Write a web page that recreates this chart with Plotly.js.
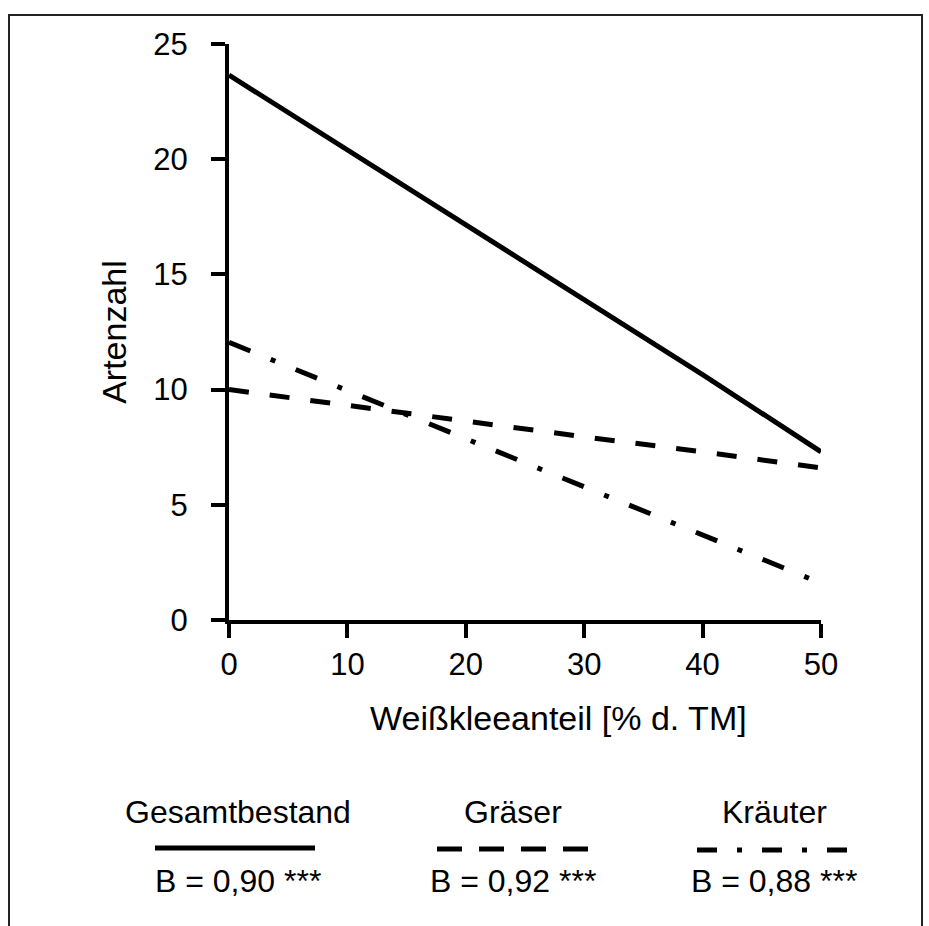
<!DOCTYPE html>
<html>
<head>
<meta charset="utf-8">
<script src="https://cdn.plot.ly/plotly-3.0.1.min.js"></script>
<style>html,body{margin:0;padding:0;background:#fff;} #chart{width:929px;height:926px;}</style>
</head>
<body>
<div id="chart"></div>
<script>
// ---- data ----
const weisskleeAnteil = [0, 10, 20, 30, 40, 50];
const gesamtbestand   = [23.65, 20.4, 17.2, 13.95, 10.65, 7.3];
const graeser         = [10.0, 9.3, 8.65, 7.95, 7.3, 6.6];
const kraeuter        = [12.05, 9.95, 7.85, 5.8, 3.7, 1.6];
const seriesNames     = ['Gesamtbestand', 'Gräser', 'Kräuter'];
const bestimmtheit    = ['B = 0,90 ***', 'B = 0,92 ***', 'B = 0,88 ***'];
const xTicks          = [0, 10, 20, 30, 40, 50];
const yTicks          = [0, 5, 10, 15, 20, 25];
const xTitle          = 'Weißkleeanteil [% d. TM]';
const yTitle          = 'Artenzahl';

// ---- layout geometry (pixels) ----
const W = 929, H = 926;
const L = 229, R = 821, T = 44, B = 620;
const pw = R - L, ph = B - T;
const px = v => (v - L) / pw;
const py = v => (B - v) / ph;

const FONT = 'Liberation Sans, Arial, Helvetica, sans-serif';
const tickFs = 31, titleFs = 34, legFs = 32;

const dashes = ['solid', '20px,21px', '23px,22px,5px,22px'];
const legendDashes = ['solid', '25px,17px', '20px,20px,5px,20px'];
const series = [gesamtbestand, graeser, kraeuter];

const traces = series.map((ys, i) => ({
  x: weisskleeAnteil, y: ys, name: seriesNames[i], type: 'scatter', mode: 'lines',
  line: {color: '#000', width: 5, dash: dashes[i]}, showlegend: false, hoverinfo: 'skip'
}));

// legend block positions (pixels)
const legCenters = [238, 513, 774];
const legSpans = [[155, 315], [437, 588], [697, 847]];
const legLineY = [848, 849, 850];

const annotations = [];
const shapes = [];
seriesNames.forEach((n, i) => {
  annotations.push({xref: 'paper', yref: 'paper', x: px(legCenters[i]), y: py(812), text: n,
    showarrow: false, xanchor: 'center', yanchor: 'middle', font: {family: FONT, size: legFs, color: '#000'}});
  annotations.push({xref: 'paper', yref: 'paper', x: px(legCenters[i]), y: py(881), text: bestimmtheit[i],
    showarrow: false, xanchor: 'center', yanchor: 'middle', font: {family: FONT, size: legFs, color: '#000'}});
  shapes.push({type: 'line', xref: 'paper', yref: 'paper', x0: px(legSpans[i][0]), x1: px(legSpans[i][1]),
    y0: py(legLineY[i]), y1: py(legLineY[i]), line: {color: '#000', width: 5, dash: legendDashes[i]}});
});
// x-axis title (placed as in the original, slightly right of centre)
annotations.push({xref: 'paper', yref: 'paper', x: px(558), y: py(718), text: xTitle,
  showarrow: false, xanchor: 'center', yanchor: 'middle', font: {family: FONT, size: titleFs, color: '#000'}});
// outer frame
shapes.push({type: 'rect', xref: 'paper', yref: 'paper', x0: px(9), x1: px(922), y0: py(940), y1: py(15),
  line: {color: '#222', width: 2}, fillcolor: 'rgba(0,0,0,0)'});

const axisCommon = {
  showgrid: false, zeroline: false, showline: true, linecolor: '#000', linewidth: 4,
  ticks: 'outside', ticklen: 14, tickwidth: 4, tickcolor: '#000',
  tickfont: {family: FONT, size: tickFs, color: '#000'}, fixedrange: true, automargin: false
};

const layout = {
  width: W, height: H,
  margin: {l: L, r: W - R, t: T, b: H - B},
  paper_bgcolor: '#fff', plot_bgcolor: '#fff',
  font: {family: FONT, size: tickFs, color: '#000'},
  xaxis: Object.assign({}, axisCommon, {
    range: [0, 50], tickvals: xTicks, ticktext: xTicks.map(String), ticklabelstandoff: 0
  }),
  yaxis: Object.assign({}, axisCommon, {
    range: [0, 25], tickvals: yTicks, ticktext: yTicks.map(String), ticklabelstandoff: 17,
    title: {text: yTitle, font: {family: FONT, size: titleFs, color: '#000'}, standoff: 17}
  }),
  showlegend: false,
  annotations: annotations,
  shapes: shapes
};

Plotly.newPlot('chart', traces, layout, {displayModeBar: false, staticPlot: true});
</script>
</body>
</html>
